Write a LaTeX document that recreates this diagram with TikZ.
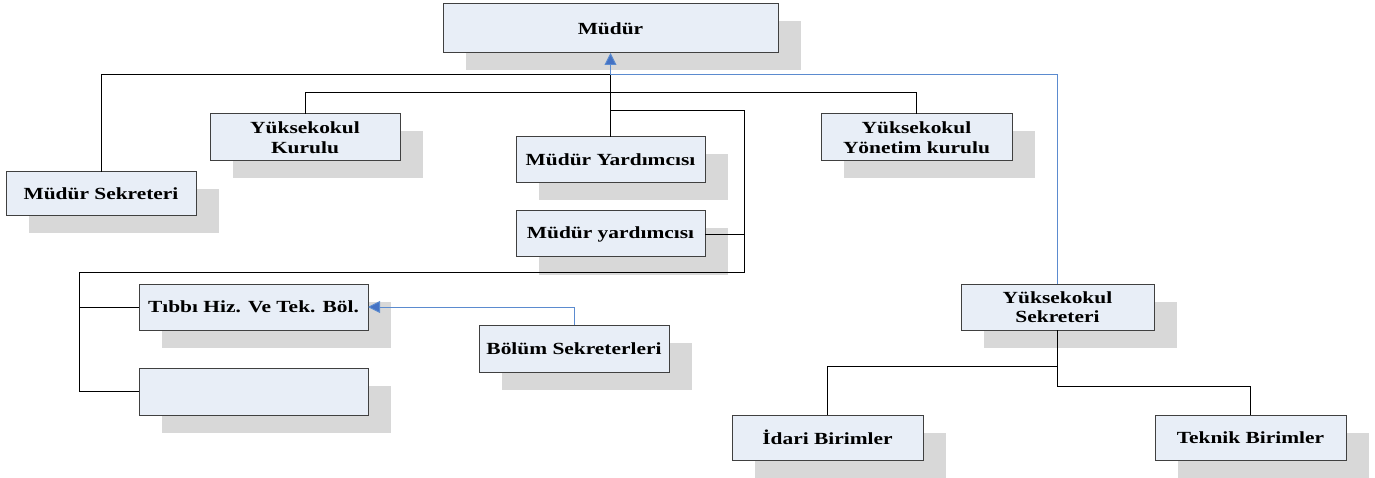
\documentclass[tikz,border=0pt]{standalone}
\usepackage{fontspec}
\setmainfont{Liberation Serif}[FakeStretch=1.26]
\usetikzlibrary{shadows,arrows.meta}
\definecolor{boxfill}{RGB}{232,238,247}
\definecolor{boxdraw}{RGB}{64,64,64}
\definecolor{shade}{RGB}{216,216,216}
\definecolor{blueline}{RGB}{91,139,207}
\definecolor{bluetip}{RGB}{68,114,196}
\begin{document}
\begin{tikzpicture}[x=1pt,y=-1pt,
  orgbox/.style={draw=boxdraw, line width=1pt, fill=boxfill, inner sep=0pt, outer sep=0pt,
    anchor=north west, align=center, font=\bfseries\fontsize{17}{19.6}\selectfont,
    general shadow={fill=shade, shadow xshift=23pt, shadow yshift=-17.5pt}},
  conn/.style={draw=black, line width=0.9pt},
  bconn/.style={draw=blueline, line width=0.9pt},
  btip/.style={-{Triangle[length=12pt,width=12pt,fill=bluetip]}}]
\useasboundingbox (0,0) rectangle (1375,478);
% boxes
\node[orgbox, minimum width=335pt, minimum height=49pt] (mudur) at (443,4) {Müdür};
\node[orgbox, minimum width=190pt, minimum height=44pt] (msek) at (6,172) {Müdür Sekreteri};
\node[orgbox, minimum width=190pt, minimum height=47pt] (ykur) at (210,114) {Yüksekokul\\Kurulu};
\node[orgbox, minimum width=189pt, minimum height=46pt] (myrd1) at (516,137) {Müdür Yardımcısı};
\node[orgbox, minimum width=189pt, minimum height=46pt] (myrd2) at (516,211) {Müdür yardımcısı};
\node[orgbox, minimum width=191pt, minimum height=47pt] (yyon) at (821,114) {Yüksekokul\\Yönetim kurulu};
\node[orgbox, minimum width=229pt, minimum height=46pt] (tibbi) at (139,284) {Tıbbı Hiz. Ve Tek. Böl.};
\node[orgbox, minimum width=229pt, minimum height=47pt] (empty) at (139,368) {};
\node[orgbox, minimum width=190pt, minimum height=47pt] (bolsek) at (479,325) {Bölüm Sekreterleri};
\node[orgbox, minimum width=193pt, minimum height=46pt] (ysek) at (961,284) {Yüksekokul\\Sekreteri};
\node[orgbox, minimum width=191pt, minimum height=45pt] (idari) at (732,415) {İdari Birimler};
\node[orgbox, minimum width=191pt, minimum height=45pt] (teknik) at (1155,415) {Teknik Birimler};
% junction coordinates
\coordinate (j1) at (mudur.south |- 0,74);
\coordinate (j2) at (mudur.south |- 0,110);
\coordinate (c1) at (744,110);
\coordinate (c2) at (744,272);
\coordinate (c3) at (79,272);
% connectors
\draw[conn] (msek.north) |- (j1);
\draw[conn] (myrd1.north) -- (j1);
\draw[bconn, btip] (ysek.north) |- (j1) -- (mudur.south);
\draw[conn] (ykur.north) -- ++(0,-22) -| (yyon.north);
\draw[conn] (j2) -- (c1) -- (c2) -- (c3) |- (empty.west);
\draw[conn] (c3 |- tibbi.west) -- (tibbi.west);
\draw[conn] (myrd2.east) -- (myrd2.east -| c1);
\draw[bconn, btip] (bolsek.north) |- (tibbi.east);
\draw[conn] (ysek.south) -- ++(0,36) -| (idari.north);
\draw[conn] (ysek.south) -- ++(0,56) -| (teknik.north);
\end{tikzpicture}
\end{document}
